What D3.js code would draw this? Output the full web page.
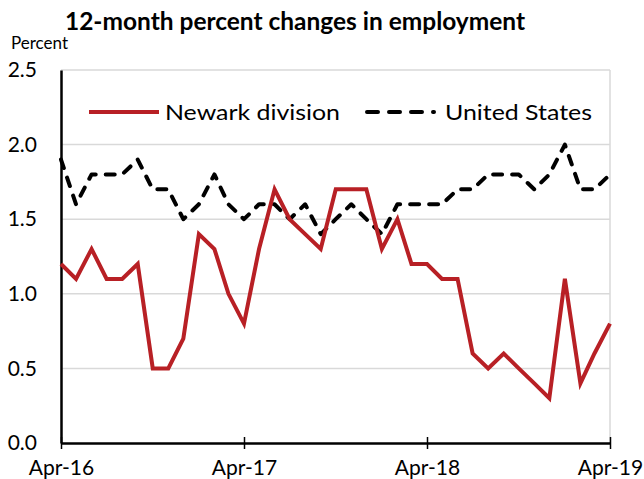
<!DOCTYPE html>
<html><head><meta charset="utf-8">
<script src="https://cdn.jsdelivr.net/npm/d3@7"></script>
<style>body{margin:0;background:#fff}svg{display:block}</style>
</head><body>
<svg id="c" width="644" height="479"></svg>
<script>
const months = d3.range(37).map(i => new Date(2016, 3 + i, 1));
const newark = [1.2,1.1,1.3,1.1,1.1,1.2,0.5,0.5,0.7,1.4,1.3,1.0,0.8,1.3,1.7,1.5,1.4,1.3,1.7,1.7,1.7,1.3,1.5,1.2,1.2,1.1,1.1,0.6,0.5,0.6,0.5,0.4,0.3,1.1,0.4,0.6,0.8];
const usa = [1.9,1.6,1.8,1.8,1.8,1.9,1.7,1.7,1.5,1.6,1.8,1.6,1.5,1.6,1.6,1.5,1.6,1.4,1.5,1.6,1.5,1.4,1.6,1.6,1.6,1.6,1.7,1.7,1.8,1.8,1.8,1.7,1.8,2.0,1.7,1.7,1.8];
const yTicks = [0, 0.5, 1.0, 1.5, 2.0, 2.5];
const xTickDates = [new Date(2016,3,1), new Date(2017,3,1), new Date(2018,3,1), new Date(2019,3,1)];
const xTickLabels = ["Apr-16","Apr-17","Apr-18","Apr-19"];
const seriesNames = ["Newark division","United States"];

const FONT = "Lato, 'Open Sans', sans-serif";
const svg = d3.select("#c");
const L = 61, R = 610, T = 70, B = 443;
const x = d3.scaleTime().domain([months[0], months[36]]).range([L, R]);
const y = d3.scaleLinear().domain([0, 2.5]).range([B, T]);

// gridlines
svg.append("g").selectAll("line").data(yTicks.filter(d => d > 0)).join("line")
  .attr("x1", L).attr("x2", R).attr("y1", d => y(d)).attr("y2", d => y(d))
  .attr("stroke", "#d9d9d9").attr("stroke-width", 1.5);
// right border
svg.append("line").attr("x1", R).attr("x2", R).attr("y1", T).attr("y2", B)
  .attr("stroke", "#d9d9d9").attr("stroke-width", 1.5);

// y axis
const ya = svg.append("g").attr("transform", `translate(${L},0)`)
  .call(d3.axisLeft(y).tickValues(yTicks).tickFormat(d3.format(".1f")).tickSize(0).tickPadding(24));
ya.select(".domain").attr("stroke", "#000").attr("stroke-width", 2.5);
ya.selectAll("text").attr("font-family", FONT).attr("font-size", 21).attr("fill", "#000");

// lines
const line = d3.line().x((d, i) => x(months[i])).y(d => y(d));
svg.append("path").datum(usa).attr("d", line).attr("fill", "none")
  .attr("stroke", "#000").attr("stroke-width", 4).attr("stroke-dasharray", "9,10")
  .attr("stroke-linecap", "round").attr("stroke-linejoin", "round");
svg.append("path").datum(newark).attr("d", line).attr("fill", "none")
  .attr("stroke", "#b82025").attr("stroke-width", 4).attr("stroke-linejoin", "miter");

// x axis
const xa = svg.append("g").attr("transform", `translate(0,${B})`)
  .call(d3.axisBottom(x).tickValues(xTickDates).tickFormat((d, i) => xTickLabels[i]).tickSizeInner(6).tickSizeOuter(0).tickPadding(11));
xa.select(".domain").attr("stroke", "#000").attr("stroke-width", 2.5);
xa.selectAll(".tick line").attr("stroke", "#000").attr("stroke-width", 1.5).attr("y1", -6).attr("y2", 6);
xa.selectAll("text").attr("font-family", FONT).attr("font-size", 21).attr("fill", "#000");

// title
svg.append("text").attr("x", 295).attr("y", 30).attr("text-anchor", "middle")
  .attr("font-family", FONT).attr("font-weight", "bold").attr("font-size", 24)
  .attr("textLength", 460).attr("lengthAdjust", "spacingAndGlyphs")
  .text("12-month percent changes in employment");
svg.append("text").attr("x", 11).attr("y", 49)
  .attr("font-family", FONT).attr("font-size", 17).text("Percent");

// legend
const lg = svg.append("g");
lg.append("line").attr("x1", 89).attr("x2", 159).attr("y1", 112).attr("y2", 112)
  .attr("stroke", "#b82025").attr("stroke-width", 4);
lg.append("text").attr("x", 165).attr("y", 120).attr("font-family", FONT).attr("font-size", 21)
  .attr("textLength", 175).attr("lengthAdjust", "spacingAndGlyphs").text(seriesNames[0]);
lg.append("line").attr("x1", 367).attr("x2", 434).attr("y1", 112).attr("y2", 112)
  .attr("stroke", "#000").attr("stroke-width", 4).attr("stroke-dasharray", "11,11").attr("stroke-linecap", "round");
lg.append("text").attr("x", 445).attr("y", 120).attr("font-family", FONT).attr("font-size", 21)
  .attr("textLength", 147).attr("lengthAdjust", "spacingAndGlyphs").text(seriesNames[1]);
</script>
</body></html>
